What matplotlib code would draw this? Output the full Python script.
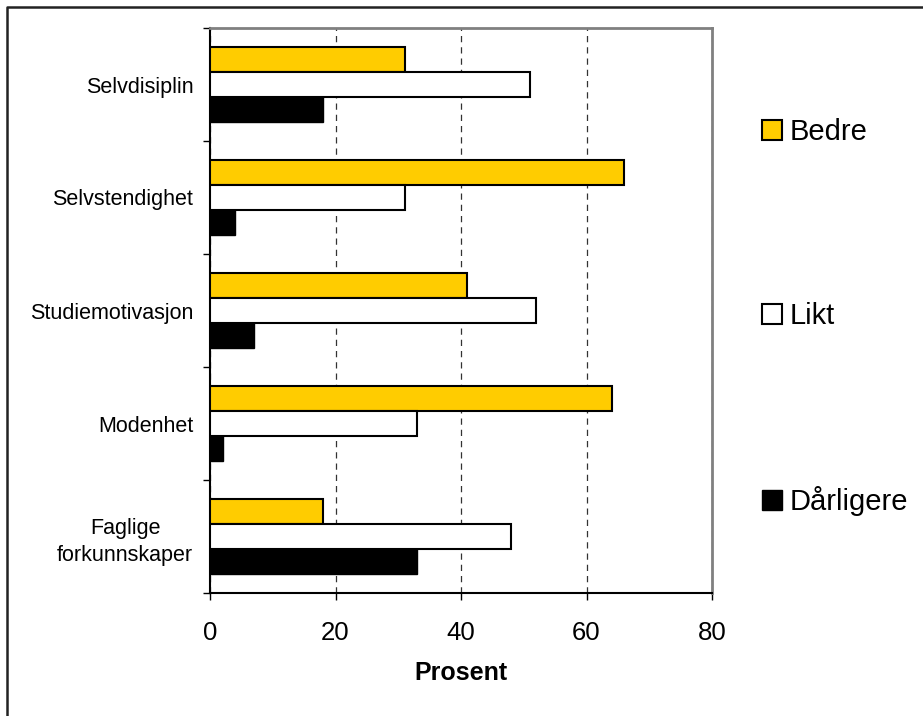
import matplotlib
matplotlib.use('Agg')
import matplotlib.pyplot as plt
from matplotlib.lines import Line2D
import numpy as np

plt.rcParams['font.family'] = ['Liberation Sans', 'DejaVu Sans']

# Data (percent)
categories = ['Selvdisiplin', 'Selvstendighet', 'Studiemotivasjon', 'Modenhet',
              'Faglige\nforkunnskaper']
series_names = ['Bedre', 'Likt', 'Dårligere']
bedre = [31, 66, 41, 64, 18]
likt = [51, 31, 52, 33, 48]
darligere = [18, 4, 7, 2, 33]
x_ticks = [0, 20, 40, 60, 80]

fig = plt.figure(figsize=(9.23, 7.16), dpi=100)
ax = fig.add_axes([210 / 923, 1 - 593 / 716, (712 - 210) / 923, (593 - 28) / 716])

y = np.arange(len(categories))
h = 0.221
ax.barh(y - h, bedre, height=h, color='#FFCC00', edgecolor='black', linewidth=1.5,
        label=series_names[0], zorder=3)
ax.barh(y, likt, height=h, color='white', edgecolor='black', linewidth=1.5,
        label=series_names[1], zorder=3)
ax.barh(y + h, darligere, height=h, color='black', edgecolor='black', linewidth=1.0,
        label=series_names[2], zorder=3)

ax.set_xlim(0, 80)
ax.set_ylim(len(categories) - 0.5, -0.5)

# x axis
ax.set_xticks(x_ticks)
ax.tick_params(axis='x', direction='out', length=5, width=1, pad=15, labelsize=18.5)
ax.set_xlabel('Prosent', fontsize=18, fontweight='bold', labelpad=12)

# y axis: ticks between categories, labels at category centres
ax.set_yticks(np.arange(len(categories) + 1) - 0.5)
ax.set_yticklabels([])
ax.set_yticks(y, minor=True)
ax.set_yticklabels(categories, minor=True, fontsize=15.5, multialignment='center',
                   linespacing=1.35)
ax.tick_params(axis='y', which='major', direction='out', length=5, width=1)
ax.tick_params(axis='y', which='minor', length=0, pad=12)

# gridlines
ax.xaxis.grid(True, color='#333333', linestyle=(0, (5, 4)), linewidth=0.9, zorder=0)
ax.set_axisbelow(True)

for side in ['left', 'bottom']:
    ax.spines[side].set_color('black')
    ax.spines[side].set_linewidth(1.5)
for side in ['top', 'right']:
    ax.spines[side].set_color('#808080')
    ax.spines[side].set_linewidth(2)

fig.legend(loc='center left', bbox_to_anchor=(762 / 923, 1 - 317 / 716),
           frameon=False, fontsize=21, handlelength=0.7, handleheight=0.7,
           handletextpad=0.25, labelspacing=5.35, borderpad=0, borderaxespad=0)

# outer frame (only top and left visible in the cropped original)
fig.add_artist(Line2D([7 / 923, 7 / 923, 1], [0, 1 - 7 / 716, 1 - 7 / 716],
                      color='#222222', linewidth=1.8))

fig.savefig('out.png', dpi=100)
